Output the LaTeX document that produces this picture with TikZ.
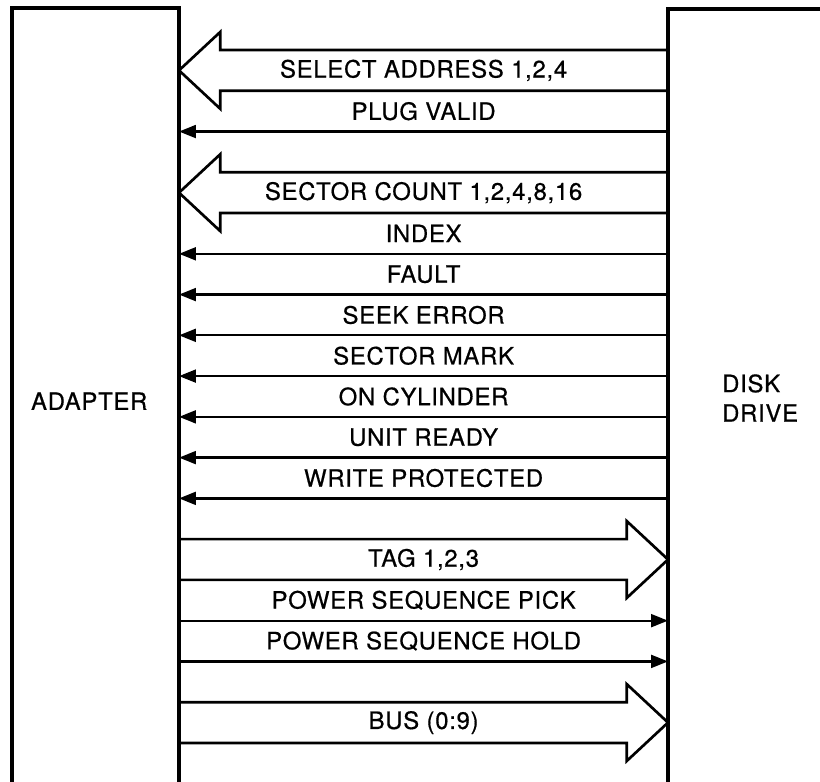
\documentclass[tikz,border=0pt]{standalone}
\usepackage{fontspec}
\setmainfont{TeX Gyre Heros}[LetterSpace=3, FakeBold=0.6]
\usetikzlibrary{arrows.meta, positioning, calc}

\begin{document}
\begin{tikzpicture}[
    unit/.style={draw, line width=2.3pt, outer sep=0pt, minimum height=21cm, anchor=north west},
    unitname/.style={font=\fontsize{17pt}{21pt}\selectfont, align=left},
    signame/.style={font=\fontsize{17pt}{19pt}\selectfont, inner sep=0pt, outer sep=0pt, minimum height=1.019cm},
    sig/.style={line width=1.6pt, -{Triangle[length=4.2mm, width=3.2mm]}},
    busarrow/.style={line width=1.9pt, line join=miter},
]
\useasboundingbox (0,0) rectangle (20.5,-19.55);
\clip (0,0) rectangle (20.5,-19.55);

% Units on both ends of the cable
\node[unit, minimum width=4.175cm] (adapter) at (0.3,-0.2) {};
\node[unit, minimum width=5cm] (drive) at (16.7,-0.225) {};
\node[unitname] (adaptername) at (2.23,-10.03) {ADAPTER};
\node[unitname, anchor=west] (drivename) at (17.93,-9.95) {DISK\\DRIVE};

% Where the wide arrow heads start
\coordinate (ahead) at ([xshift=1.03cm]adapter.east);
\coordinate (dhead) at ([xshift=-1.03cm]drive.west);

% Signal names, one band each
\node[signame] (sa) at (10.59,-1.76) {SELECT ADDRESS 1,2,4};
\node[signame, below=0pt of sa] (pv) {PLUG VALID};
\node[signame, below=1.019cm of pv] (sc) {SECTOR COUNT 1,2,4,8,16};
\node[signame, below=0pt of sc] (idx) {INDEX};
\node[signame, below=0pt of idx] (flt) {FAULT};
\node[signame, below=0pt of flt] (seek) {SEEK ERROR};
\node[signame, below=0pt of seek] (smark) {SECTOR MARK};
\node[signame, below=0pt of smark] (oncyl) {ON CYLINDER};
\node[signame, below=0pt of oncyl] (ready) {UNIT READY};
\node[signame, below=0pt of ready] (wprot) {WRITE PROTECTED};
\node[signame, below=1.019cm of wprot] (tag) {TAG 1,2,3};
\node[signame, below=0pt of tag] (pick) {POWER SEQUENCE PICK};
\node[signame, below=0pt of pick] (hold) {POWER SEQUENCE HOLD};
\node[signame, below=1.019cm of hold] (bus) {BUS (0:9)};

% Wide arrows, drive to adapter
\draw[busarrow] (drive.west |- sa.north) -- (ahead |- sa.north) -- ++(0,0.45) -- (adapter.east |- sa)
    -- ($(ahead |- sa.south)+(0,-0.45)$) -- (ahead |- sa.south) -- (drive.west |- sa.south);
\draw[busarrow] (drive.west |- sc.north) -- (ahead |- sc.north) -- ++(0,0.45) -- (adapter.east |- sc)
    -- ($(ahead |- sc.south)+(0,-0.45)$) -- (ahead |- sc.south) -- (drive.west |- sc.south);

% Single lines, drive to adapter
\draw[sig] (drive.west |- pv.south) -- (adapter.east |- pv.south);
\draw[sig] (drive.west |- idx.south) -- (adapter.east |- idx.south);
\draw[sig] (drive.west |- flt.south) -- (adapter.east |- flt.south);
\draw[sig] (drive.west |- seek.south) -- (adapter.east |- seek.south);
\draw[sig] (drive.west |- smark.south) -- (adapter.east |- smark.south);
\draw[sig] (drive.west |- oncyl.south) -- (adapter.east |- oncyl.south);
\draw[sig] (drive.west |- ready.south) -- (adapter.east |- ready.south);
\draw[sig] (drive.west |- wprot.south) -- (adapter.east |- wprot.south);

% Wide arrows, adapter to drive
\draw[busarrow] (adapter.east |- tag.north) -- (dhead |- tag.north) -- ++(0,0.45) -- (drive.west |- tag)
    -- ($(dhead |- tag.south)+(0,-0.45)$) -- (dhead |- tag.south) -- (adapter.east |- tag.south);
\draw[busarrow] (adapter.east |- bus.north) -- (dhead |- bus.north) -- ++(0,0.45) -- (drive.west |- bus)
    -- ($(dhead |- bus.south)+(0,-0.45)$) -- (dhead |- bus.south) -- (adapter.east |- bus.south);

% Single lines, adapter to drive
\draw[sig] (adapter.east |- pick.south) -- (drive.west |- pick.south);
\draw[sig] (adapter.east |- hold.south) -- (drive.west |- hold.south);

\end{tikzpicture}
\end{document}
